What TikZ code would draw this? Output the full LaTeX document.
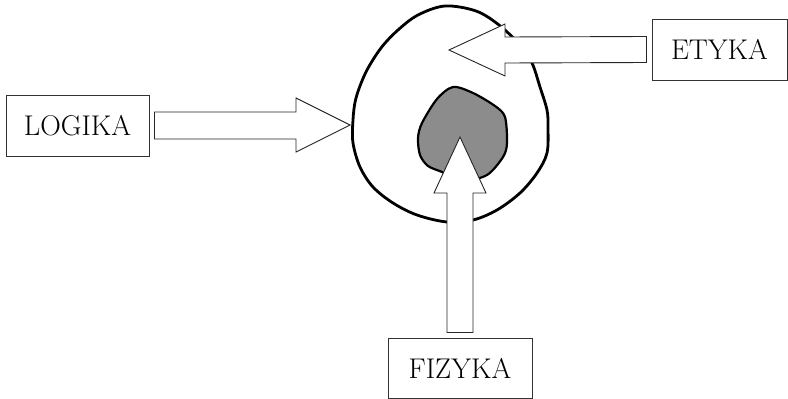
\documentclass[tikz,border=0pt]{standalone}
\begin{document}
\begin{tikzpicture}[x=1pt,y=-1pt,
  box/.style={draw=black!80,line width=1pt,fill=white,inner sep=0pt,
    font=\fontsize{28.5}{32}\selectfont},
  blockarrow/.style={draw=black!85,line width=0.9pt,fill=white,line join=miter},
  shell/.style={draw=black,line width=2.8pt},
  core/.style={draw=black,line width=2.2pt,fill=black!45}]
\useasboundingbox (0,0) rectangle (788,399);

% outer egg-shaped outline
\draw[shell] plot[smooth cycle,tension=0.55] coordinates {
  (445,6) (476,11) (499,25) (520,45) (532,63) (540,87) (547,110) (548,127)
  (547,153) (537,173) (520,193) (497,210) (473,220) (447,222) (417,215)
  (393,203) (373,187) (360,167) (353,143) (353,120) (356,98) (366,72)
  (381,48) (398,30) (418,15)};

% grey core
\draw[core] plot[smooth cycle,tension=0.5] coordinates {
  (453,87) (473,93) (495,106) (505,117) (507,143) (503,157) (487,175)
  (462,181) (442,172) (428,166) (420,155) (418,138) (422,123) (437,99)};

% labelled boxes
\node[box,minimum width=143pt,minimum height=61pt] (logika) at (77.5,125.5) {LOGIKA};
\node[box,minimum width=135pt,minimum height=61pt] (etyka) at (719.5,49.5) {ETYKA};
\node[box,minimum width=144pt,minimum height=60pt] (fizyka) at (460,368) {FIZYKA};

% tips of the block arrows
\coordinate (ltip) at (350,125);
\coordinate (etip) at (449,50);
\coordinate (ftip) at (460,137);

% LOGIKA -> shell
\draw[blockarrow] ([xshift=5pt,yshift=13.5pt]logika.east) -- (296,112) -- (296,98)
  -- (ltip) -- (296,152) -- (296,139) -- ([xshift=5pt,yshift=-13.5pt]logika.east) -- cycle;

% ETYKA -> shell
\draw[blockarrow] ([xshift=-5pt,yshift=13pt]etyka.west) -- (505,37) -- (505,24)
  -- (etip) -- (505,76) -- (505,63) -- ([xshift=-5pt,yshift=-13pt]etyka.west) -- cycle;

% FIZYKA -> core
\draw[blockarrow] ([xshift=-13pt,yshift=5pt]fizyka.north) -- (447,193) -- (434,193)
  -- (ftip) -- (486,193) -- (473,193) -- ([xshift=13pt,yshift=5pt]fizyka.north) -- cycle;
\end{tikzpicture}
\end{document}
